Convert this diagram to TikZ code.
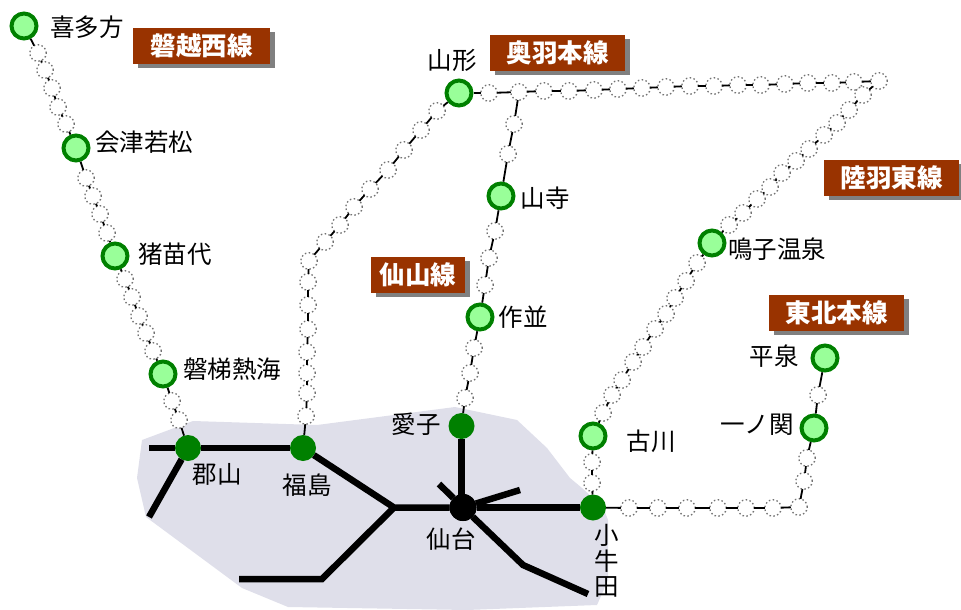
\documentclass[tikz,border=0pt]{standalone}
\usepackage{fontspec}
\usetikzlibrary{shadows}
\newfontfamily\cjk{Noto Sans CJK JP}
\definecolor{stgreen}{HTML}{008000}
\definecolor{stlight}{HTML}{99FF99}
\definecolor{area}{HTML}{DFDFEA}
\definecolor{linebrown}{HTML}{993300}
\tikzset{
  ring/.style={circle,draw=black!55,fill=white,line width=1.3pt,dash pattern=on 1.5pt off 2.4pt,minimum size=16.5pt,inner sep=0pt,outer sep=0pt},
  railthin/.style={draw=black,line width=1.8pt},
  railthick/.style={draw=black,line width=6.5pt},
  ministation/.style={circle,draw=stgreen,fill=stlight,line width=4pt,minimum size=25pt,inner sep=0pt,outer sep=2pt},
  bigstation/.style={circle,fill=stgreen,minimum size=26pt,inner sep=0pt,outer sep=0pt},
  hubstation/.style={circle,fill=black,minimum size=27pt,inner sep=0pt,outer sep=0pt},
  lbl/.style={font=\cjk\fontsize{24.5}{25.5}\selectfont,text=black,inner sep=0pt,align=center},
  linebox/.style={fill=linebrown,text=white,font=\cjk\bfseries\fontsize{25.5}{27}\selectfont,minimum height=36pt,inner sep=0pt,
    general shadow={shadow xshift=4.5pt,shadow yshift=-4pt,fill=black!50,opacity=1}},
}
\newcommand\rail[3]{%
  \foreach \px/\py [count=\k, remember=\k as \lastk (initially 0)] in {#3}{%
    \node[ring] (#1-#2-\k) at (\px,\py) {};
    \ifnum\k=1 \draw[railthin] (#1) -- (#1-#2-1);
    \else \draw[railthin] (#1-#2-\lastk) -- (#1-#2-\k);\fi
    \xdef\railn{\k}%
  }%
  \draw[railthin] (#1-#2-\railn) -- (#2);
}
\begin{document}
\begin{tikzpicture}[x=1pt,y=-1pt]
\useasboundingbox (0,0) rectangle (961,610);
\fill[area] (142,440) -- (193,421) -- (317,425) -- (455,407) -- (517,420) -- (547,448) -- (570,478) -- (582,488) -- (603,507) -- (608,520) -- (608,580) -- (597,605) -- (467,610) -- (288,607) -- (242,588) -- (146,517) -- (137,478) -- cycle;

% stations
\node[ministation] (kitakata) at (24,26) {};
\node[ministation] (aizu) at (76,148) {};
\node[ministation] (inawashiro) at (115,256) {};
\node[ministation] (bandai) at (163,374) {};
\node[bigstation] (koriyama) at (188,448) {};
\node[bigstation] (fukushima) at (303,448) {};
\node[ministation] (yamagata) at (459,93) {};
\node[ministation] (yamadera) at (501,196) {};
\node[ministation] (sakunami) at (480,317) {};
\node[bigstation] (ayashi) at (461.5,426) {};
\node[hubstation] (sendai) at (463,507.5) {};
\node[bigstation] (kogota) at (593,507.5) {};
\node[ministation] (furukawa) at (593,436) {};
\node[ministation] (naruko) at (712,243) {};
\node[ministation] (hiraizumi) at (825,358) {};
\node[ministation] (ichinoseki) at (814,428) {};
\node[ring] (oujct) at (519,92) {};
\node[ring] (ouend) at (879,81) {};
\node[ring] (tohokucorner) at (799,507) {};

% thick lines
\coordinate (koriend) at (149,448);
\coordinate (koriend2) at (149,517);
\coordinate (fork) at (394,507.5);
\coordinate (bend1) at (322,579);
\coordinate (end1) at (239,579);
\coordinate (stubA) at (439,484);
\coordinate (stubB) at (520,490);
\coordinate (bend2) at (523,565);
\coordinate (end2) at (588,594);
\coordinate (sendaitop) at (461.5,507.5);
\draw[railthick] (koriend) -- (koriyama);
\draw[railthick] (koriyama) -- (koriend2);
\draw[railthick] (koriyama) -- (fukushima);
\draw[railthick,line join=miter] (fukushima) -- (fork) -- (sendai);
\draw[railthick,line join=miter] (fork) -- (bend1) -- (end1);
\draw[railthick] (ayashi) -- (sendaitop);
\draw[railthick] (sendai) -- (kogota);
\draw[railthick] (sendai) -- (stubA);
\draw[railthick] (sendai) -- (stubB);
\draw[railthick,line join=miter] (sendai) -- (bend2) -- (end2);
\node[hubstation] (sendaicap) at (sendai) {};

% thin rails with rings
\rail{aizu}{kitakata}{66/124,58/107,52/88,45/70,38/53}
\rail{inawashiro}{aizu}{107/233,100/214,93/196,86/178}
\rail{bandai}{inawashiro}{153/351,146/333,139/316,132/297,125/279}
\rail{koriyama}{bandai}{179/420,172/401}
\rail{fukushima}{yamagata}{306/416,307/393,307/373,307/352,308/329,308/305,308/282,309/261,325/242,340/225,354/207,370/189,388/170,404/150,421/130,437/111}
\rail{yamagata}{oujct}{489/93}
\rail{oujct}{ouend}{544/91,569/91,594/90,618/89,642/88,666/87,690/86,714/86,738/85,761/85,785/84,808/83,832/83,854/82}
\rail{oujct}{yamadera}{514/124,508/154}
\rail{yamadera}{sakunami}{495/231,489/258,485/285}
\rail{sakunami}{ayashi}{474/348,470/373,465/398}
\rail{ouend}{naruko}{863/95,849/110,837/123,824/135,809/149,796/161,782/173,770/187,757/199,743/213,729/225}
\rail{naruko}{furukawa}{697/263,686/281,675/298,666/314,655/329,643/347,633/362,622/380,612/395,603/413}
\rail{furukawa}{kogota}{592/462,592/483}
\rail{kogota}{tohokucorner}{629/508,658/508,687/508,718/508,746/508,773/508}
\rail{tohokucorner}{ichinoseki}{804/481,807/458}
\rail{ichinoseki}{hiraizumi}{818/395}

% station labels
\node[lbl] (tkitakata) at (87,27) {喜多方};
\node[lbl] (taizu) at (144,142) {会津若松};
\node[lbl] (tinawashiro) at (175,254) {猪苗代};
\node[lbl] (tbandai) at (232,369) {磐梯熱海};
\node[lbl] (tkoriyama) at (217,474) {郡山};
\node[lbl] (tfukushima) at (307,485) {福島};
\node[lbl] (tyamagata) at (452,60) {山形};
\node[lbl] (tyamadera) at (545,198) {山寺};
\node[lbl] (tsakunami) at (523,317) {作並};
\node[lbl] (tayashi) at (416,424) {愛子};
\node[lbl] (tsendai) at (451,539) {仙台};
\node[lbl] (tkogota) at (607,561) {小\\牛\\田};
\node[lbl] (tfurukawa) at (651,441) {古川};
\node[lbl] (tnaruko) at (777,249) {鳴子温泉};
\node[lbl] (thiraizumi) at (774,356) {平泉};
\node[lbl] (tichinoseki) at (757,425) {一ノ関};

% line labels
\node[linebox,minimum width=137pt] (bsw) at (201.5,46) {磐越西線};
\node[linebox,minimum width=135pt] (ou) at (557.5,53) {奥羽本線};
\node[linebox,minimum width=135pt] (rikuu) at (891.5,178) {陸羽東線};
\node[linebox,minimum width=94pt] (senzan) at (418,275) {仙山線};
\node[linebox,minimum width=135pt] (tohoku) at (836.5,313) {東北本線};
\end{tikzpicture}
\end{document}
